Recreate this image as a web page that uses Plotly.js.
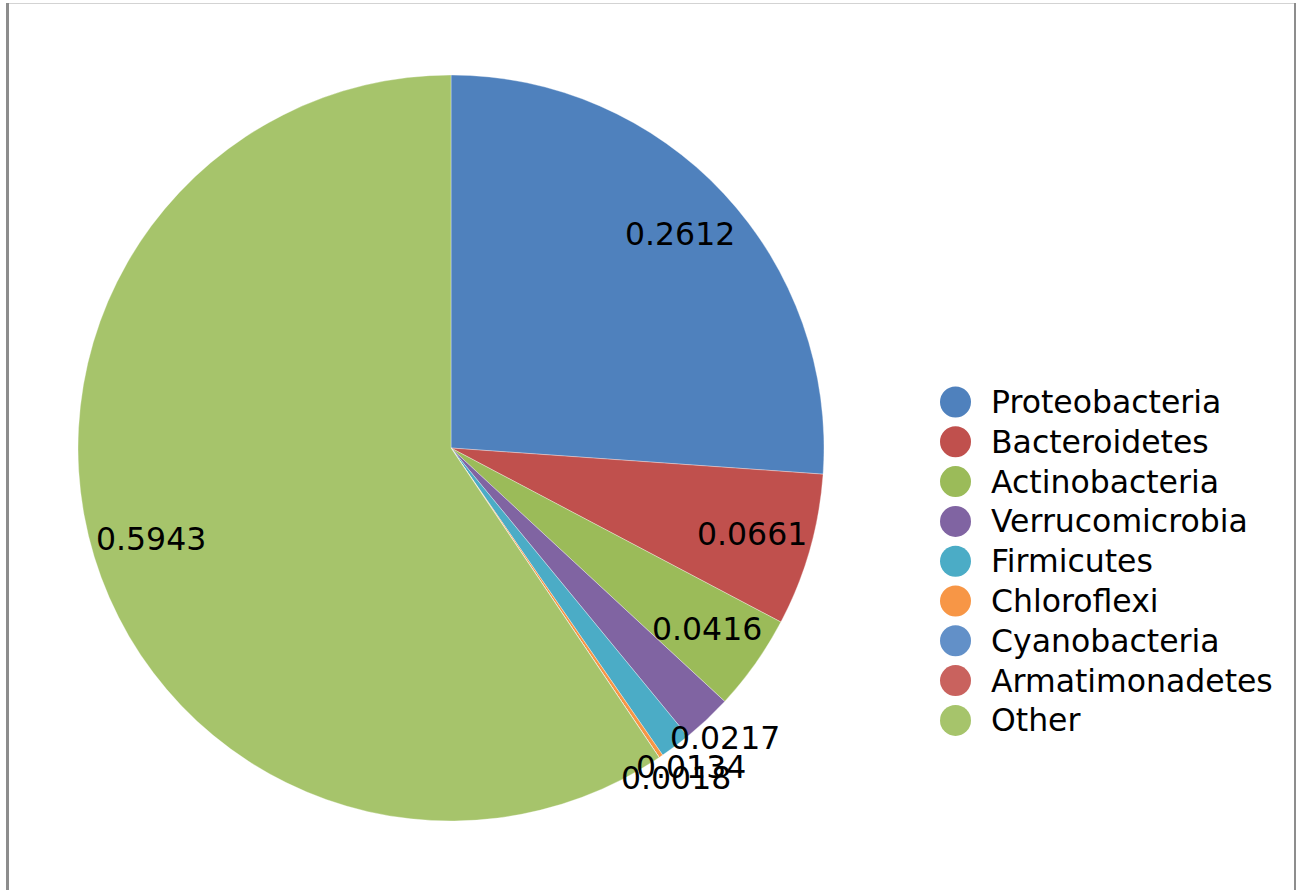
<!DOCTYPE html>
<html>
<head>
<meta charset="utf-8">
<script src="https://cdn.plot.ly/plotly-3.0.1.min.js"></script>
<style>
  html, body { margin: 0; padding: 0; background: #ffffff; }
  #wrap { position: relative; width: 1299px; height: 890px; overflow: hidden; }
  #chart { position: absolute; left: 0; top: 0; width: 1299px; height: 890px; }
  .edge { position: absolute; }
</style>
</head>
<body>
<div id="wrap">
  <div id="chart"></div>
  <div class="edge" style="left:6px;top:3px;width:3px;height:887px;background:#8d8d8d"></div>
  <div class="edge" style="left:9px;top:3px;width:1285px;height:1px;background:#d3d3d3"></div>
  <div class="edge" style="left:1294px;top:3px;width:2px;height:887px;background:#8d8d8d"></div>
</div>
<script>
// Phylum-level relative abundance
const phyla = [
  'Proteobacteria', 'Bacteroidetes', 'Actinobacteria', 'Verrucomicrobia',
  'Firmicutes', 'Chloroflexi', 'Cyanobacteria', 'Armatimonadetes', 'Other'
];
const shares = [0.2612, 0.0661, 0.0416, 0.0217, 0.0134, 0.0018, 0, 0, 0.5943];
const sliceColors = [
  '#4f81bd', '#c0504d', '#9bbb59', '#8064a2', '#4bacc6',
  '#f79646', '#6290c8', '#c9625e', '#a6c46b'
];

// Figure geometry (pixels)
const W = 1299, H = 890;
const CX = 451, CY = 448, R = 373;          // pie centre and radius
const INNER_LABEL_R = 0.84 * R;               // value labels inside the slice
const OUTER_LABEL_R = 1.07 * R;               // value labels for thin slices
const THIN_SLICE = 0.03;
const FONT = 'DejaVu Sans, Verdana, sans-serif';
const FONT_SIZE = 31.5;

const LEG_CIRCLE_X = 955.5, LEG_TEXT_X = 989, LEG_Y0 = 402, LEG_STEP = 39.8, LEG_D = 31;

const px = x => x / W;
const py = y => 1 - y / H;

const pie = {
  type: 'pie',
  labels: phyla,
  values: shares,
  sort: false,
  direction: 'clockwise',
  rotation: 0,
  textinfo: 'none',
  showlegend: false,
  marker: { colors: sliceColors, line: { color: 'rgba(255,255,255,0.55)', width: 0.6 } },
  domain: {
    x: [px(CX - R), px(CX + R)],
    y: [py(CY + R), py(CY - R)]
  },
  hovertemplate: '%{label}: %{value:.4f}<extra></extra>'
};

// Value labels placed along each slice's mid-angle
const total = shares.reduce((a, b) => a + b, 0);
const annotations = [];
let cum = 0;
shares.forEach((v, i) => {
  const mid = (cum + v / 2) / total * 2 * Math.PI;
  cum += v;
  if (v <= 0) return;
  const rr = v < THIN_SLICE ? OUTER_LABEL_R : INNER_LABEL_R;
  annotations.push({
    xref: 'paper', yref: 'paper',
    x: px(CX + rr * Math.sin(mid)),
    y: py(CY - rr * Math.cos(mid)),
    xanchor: 'center', yanchor: 'middle',
    text: v.toFixed(4),
    showarrow: false,
    font: { family: FONT, size: FONT_SIZE, color: '#000000' }
  });
});

// Legend: coloured discs with the phylum names
const shapes = [];
phyla.forEach((name, i) => {
  const y = LEG_Y0 + i * LEG_STEP;
  shapes.push({
    type: 'circle',
    xref: 'paper', yref: 'paper',
    xsizemode: 'pixel', ysizemode: 'pixel',
    xanchor: px(LEG_CIRCLE_X), yanchor: py(y),
    x0: -LEG_D / 2, x1: LEG_D / 2, y0: -LEG_D / 2, y1: LEG_D / 2,
    fillcolor: sliceColors[i],
    line: { width: 0 }
  });
  annotations.push({
    xref: 'paper', yref: 'paper',
    x: px(LEG_TEXT_X), y: py(y),
    xanchor: 'left', yanchor: 'middle',
    text: name,
    showarrow: false,
    font: { family: FONT, size: FONT_SIZE, color: '#000000' }
  });
});

const layout = {
  width: W, height: H,
  margin: { l: 0, r: 0, t: 0, b: 0 },
  paper_bgcolor: '#ffffff',
  showlegend: false,
  annotations: annotations,
  shapes: shapes
};

Plotly.newPlot('chart', [pie], layout, { displayModeBar: false, staticPlot: true });
</script>
</body>
</html>
